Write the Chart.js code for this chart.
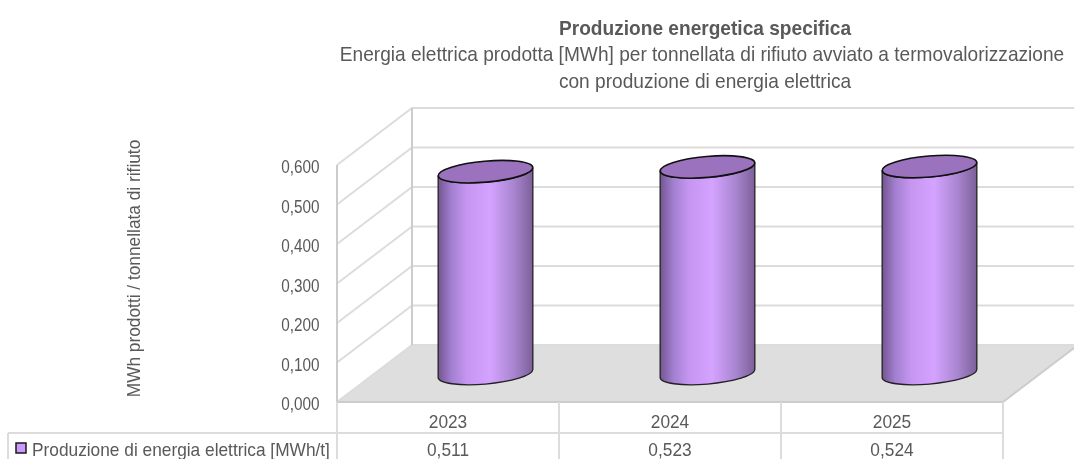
<!DOCTYPE html>
<html>
<head>
<meta charset="utf-8">
<style>
  html, body { margin: 0; padding: 0; background: #fff; overflow: hidden; }
  canvas { display: block; }
</style>
<script src="https://cdn.jsdelivr.net/npm/chart.js@4"></script>
</head>
<body>
<canvas id="chart" width="1074" height="459"></canvas>
<script>
const categories = ["2023", "2024", "2025"];
const seriesName = "Produzione di energia elettrica [MWh/t]";
const seriesValues = [0.511, 0.523, 0.524];
const tableLabels = ["0,511", "0,523", "0,524"];
const titleBold = "Produzione energetica specifica";
const titleLines = [
  "Energia elettrica prodotta [MWh] per tonnellata di rifiuto avviato a termovalorizzazione",
  "con produzione di energia elettrica",
];
const yAxisTitle = "MWh prodotti / tonnellata di rifiuto";

const FONT = '"Liberation Sans", Arial, sans-serif';
const TEXT = "#595959";
const GRID = "#dcdcdc";
// shift of the back wall against the front plane
const DEPTH_X = 75;
const DEPTH_Y = -57;
// the original text is a condensed face, so squeeze to this ratio of natural width
const SQUEEZE = 0.91;

function label(ctx, text, x, y, font, squeeze) {
  ctx.font = font;
  ctx.fillText(text, x, y, ctx.measureText(text).width * (squeeze || SQUEEZE));
}

const wallsPlugin = {
  id: "walls",
  beforeDatasetsDraw(chart) {
    const { ctx, chartArea: a, scales } = chart;
    ctx.save();
    // floor
    ctx.fillStyle = "#dedede";
    ctx.beginPath();
    ctx.moveTo(a.left, a.bottom);
    ctx.lineTo(a.left + DEPTH_X, a.bottom + DEPTH_Y);
    ctx.lineTo(a.right + DEPTH_X, a.bottom + DEPTH_Y);
    ctx.lineTo(a.right, a.bottom);
    ctx.closePath();
    ctx.fill();
    ctx.strokeStyle = GRID;
    ctx.lineWidth = 2;
    scales.y.ticks.forEach((t) => {
      const y = scales.y.getPixelForValue(t.value);
      ctx.beginPath();
      ctx.moveTo(a.left, y);
      ctx.lineTo(a.left + DEPTH_X, y + DEPTH_Y);
      ctx.lineTo(chart.width, y + DEPTH_Y);
      ctx.stroke();
    });
    // wall edges
    ctx.strokeStyle = "#cccccc";
    ctx.lineWidth = 2;
    ctx.beginPath();
    ctx.moveTo(a.left, a.top);
    ctx.lineTo(a.left, a.bottom);
    ctx.moveTo(a.left + DEPTH_X, a.top + DEPTH_Y);
    ctx.lineTo(a.left + DEPTH_X, a.bottom + DEPTH_Y);
    ctx.moveTo(a.right, a.bottom);
    ctx.lineTo(a.right + DEPTH_X, a.bottom + DEPTH_Y);
    ctx.moveTo(a.left, a.bottom);
    ctx.lineTo(a.right, a.bottom);
    ctx.stroke();
    ctx.restore();
  },
  afterDatasetsDraw(chart) {
    const { ctx } = chart;
    const tilt = (-5 * Math.PI) / 180;
    const ry = 10.5;
    chart.getDatasetMeta(0).data.forEach((bar) => {
      const cx = bar.x + DEPTH_X / 2;
      const yTop = bar.y + DEPTH_Y / 2;
      const yBase = bar.base + DEPTH_Y / 2;
      const rx = bar.width / 2;
      const grad = ctx.createLinearGradient(cx - rx, 0, cx + rx, 0);
      grad.addColorStop(0, "#73558f");
      grad.addColorStop(0.14, "#a27fd0");
      grad.addColorStop(0.3, "#c595f0");
      grad.addColorStop(0.55, "#d4a3ff");
      grad.addColorStop(0.8, "#a885cf");
      grad.addColorStop(1, "#7c5f98");
      ctx.save();
      ctx.lineWidth = 1.3;
      ctx.strokeStyle = "#222222";
      ctx.fillStyle = grad;
      ctx.beginPath();
      ctx.ellipse(cx, yBase, rx, ry, tilt, 0.02, Math.PI + 0.02);
      ctx.ellipse(cx, yTop, rx, ry, tilt, Math.PI + 0.02, 0.02, true);
      ctx.closePath();
      ctx.fill();
      ctx.stroke();
      ctx.lineWidth = 1.6;
      ctx.strokeStyle = "#111111";
      ctx.fillStyle = "#9b72bd";
      ctx.beginPath();
      ctx.ellipse(cx, yTop, rx, ry, tilt, 0, Math.PI * 2);
      ctx.fill();
      ctx.stroke();
      ctx.restore();
    });
  },
  afterDraw(chart) {
    const { ctx, chartArea: a, scales } = chart;
    ctx.save();
    // data table
    const rowY = 433;
    ctx.strokeStyle = GRID;
    ctx.lineWidth = 2;
    ctx.beginPath();
    ctx.moveTo(8, rowY);
    ctx.lineTo(a.right, rowY);
    ctx.moveTo(8, rowY);
    ctx.lineTo(8, chart.height);
    ctx.moveTo(a.left, a.bottom);
    ctx.lineTo(a.left, chart.height);
    categories.forEach((c, i) => {
      const x = a.left + ((i + 1) * a.width) / categories.length;
      ctx.moveTo(x, a.bottom);
      ctx.lineTo(x, chart.height);
    });
    ctx.stroke();

    ctx.fillStyle = TEXT;
    ctx.textBaseline = "alphabetic";
    // y ticks
    ctx.textAlign = "right";
    scales.y.ticks.forEach((t) => {
      label(ctx, t.label, 319.5, scales.y.getPixelForValue(t.value) + 8, "18px " + FONT, 0.85);
    });
    // categories and values
    ctx.textAlign = "center";
    categories.forEach((c, i) => {
      const x = scales.x.getPixelForValue(i);
      label(ctx, c, x, 428, "19px " + FONT);
      label(ctx, tableLabels[i], x, 456, "19px " + FONT);
    });
    ctx.textAlign = "left";
    label(ctx, seriesName, 32, 455.5, "19px " + FONT);
    // legend key
    ctx.fillStyle = "#cc99ff";
    ctx.strokeStyle = "#1a1a1a";
    ctx.lineWidth = 1.5;
    ctx.fillRect(16, 443, 10, 10);
    ctx.strokeRect(16, 443, 10, 10);
    // titles
    ctx.fillStyle = TEXT;
    ctx.textAlign = "center";
    label(ctx, titleBold, 705, 34.5, "bold 21px " + FONT);
    label(ctx, titleLines[0], 702, 61, "21px " + FONT);
    label(ctx, titleLines[1], 705, 88, "21px " + FONT);
    // y axis title
    ctx.translate(140, 268.5);
    ctx.rotate(-Math.PI / 2);
    label(ctx, yAxisTitle, 0, 0, "19px " + FONT);
    ctx.restore();
  },
};

new Chart(document.getElementById("chart"), {
  type: "bar",
  data: {
    labels: categories,
    datasets: [
      {
        label: seriesName,
        data: seriesValues,
        backgroundColor: "transparent",
        borderWidth: 0,
        barPercentage: 0.428,
        categoryPercentage: 1,
      },
    ],
  },
  options: {
    responsive: false,
    animation: false,
    layout: { padding: { top: 165, right: 71 } },
    plugins: {
      legend: { display: false },
      title: { display: false },
      tooltip: { enabled: false },
    },
    scales: {
      x: {
        grid: { display: false, drawTicks: false },
        border: { display: false },
        ticks: { display: false },
        afterFit: (scale) => { scale.height = 57; },
      },
      y: {
        min: 0,
        max: 0.6,
        grid: { display: false, drawTicks: false },
        border: { display: false },
        ticks: {
          display: false,
          stepSize: 0.1,
          callback: (v) => v.toFixed(3).replace(".", ","),
        },
        afterFit: (scale) => { scale.width = 337; },
      },
    },
  },
  plugins: [wallsPlugin],
});
</script>
</body>
</html>
